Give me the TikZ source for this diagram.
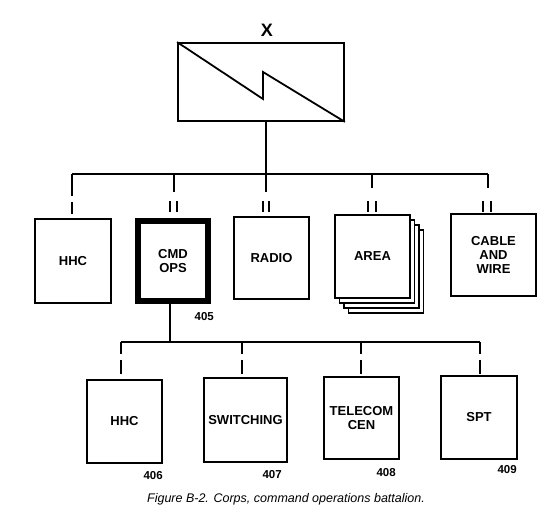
\documentclass[tikz,border=0pt]{standalone}
\usepackage{fontspec}
\setsansfont{Liberation Sans}
\usetikzlibrary{positioning}
\tikzset{
  unit/.style={draw=black, fill=white, line width=1.8pt, align=center, inner sep=2pt,
    font=\sffamily\bfseries\fontsize{13}{14}\selectfont},
  link/.style={black, line width=1.8pt},
  num/.style={font=\sffamily\bfseries\fontsize{11.5}{12}\selectfont, inner sep=1pt},
  figcap/.style={font=\sffamily\itshape\fontsize{12.5}{14}\selectfont},
}

\begin{document}
\begin{tikzpicture}[x=1pt,y=-1pt]
  \useasboundingbox (0,0) rectangle (550,518);

  % signal battalion symbol
  \node[font=\sffamily\bfseries\fontsize{18}{18}\selectfont, inner sep=0pt] (xlab) at (267,30) {X};
  \node[draw, line width=1.8pt, minimum width=166pt, minimum height=78pt] (bn) at (261,82) {};
  \draw[link, line join=miter] (bn.north west) -- (263,99) -- (263,72) -- (bn.south east);

  % first row of units
  \node[unit, minimum width=76pt, minimum height=84pt] (hhc) at (73,261) {HHC};
  \node[unit, line width=6pt, minimum width=70pt, minimum height=80pt] (cmd) at (173,261) {CMD\\OPS};
  \node[unit, minimum width=75pt, minimum height=82pt] (radio) at (271.5,258) {RADIO};
  \foreach \k in {3,2,1}{
    \node[unit, minimum width=75pt, minimum height=83pt] (area-\k) at (372.5+4.5*\k,256.5+5*\k) {};
  }
  \node[unit, minimum width=75pt, minimum height=83pt] (area) at (372.5,256.5) {AREA};
  \node[unit, minimum width=85pt, minimum height=82pt] (cable) at (493.5,255) {CABLE\\AND\\WIRE};
  \node[num, below left=7pt and -4pt of cmd.south east] (n405) {405};

  % bus and drops
  \coordinate (bus-w) at (72,174);
  \coordinate (bus-e) at (488,174);
  \coordinate (radio-top) at (266,192);
  \draw[link] (bus-w) -- (bus-e);
  \draw[link] (bn.south -| radio-top) -- (radio-top);
  \foreach \u/\px/\py in {hhc/72/196, cmd/174/192, area/372/188, cable/488/188}{
    \coordinate (\u-top) at (\px,\py);
    \draw[link] (bus-w -| \u-top) -- (\u-top);
  }
  % echelon marks
  \draw[link] (72,202) -- (72,214);
  \foreach \px in {170,177,263,269,368,376,483,491}{
    \draw[link] (\px,201.5) -- (\px,212.5);
  }

  % second row of units
  \node[unit, minimum width=75pt, minimum height=83pt] (hhc2) at (124.5,421.5) {HHC};
  \node[unit, minimum width=83pt, minimum height=84pt] (switching) at (245.5,420) {SWITCHING};
  \node[unit, minimum width=75pt, minimum height=82pt] (telecom) at (361.5,418) {TELECOM\\CEN};
  \node[unit, minimum width=76pt, minimum height=83pt] (spt) at (479,417.5) {SPT};
  \node[num, below left=6pt and -1pt of hhc2.south east] (n406) {406};
  \node[num, below left=6pt and 5pt of switching.south east] (n407) {407};
  \node[num, below left=7pt and 3pt of telecom.south east] (n408) {408};
  \node[num, below left=4pt and 0pt of spt.south east] (n409) {409};

  \coordinate (bus2-w) at (121,342);
  \coordinate (bus2-e) at (480,342);
  \coordinate (bus2-c) at (170,342);
  \draw[link] (cmd.south -| bus2-c) -- (bus2-c);
  \draw[link] (bus2-w) -- (bus2-e);
  \foreach \u/\px in {hhc2/121, switching/242, telecom/361, spt/480}{
    \coordinate (\u-top) at (\px,354);
    \draw[link] (bus2-w -| \u-top) -- (\u-top);
    \draw[link] (\px,360) -- (\px,374);
  }

  \node[figcap] (caption) at (286,499) {Figure B-2. Corps, command operations battalion.};
\end{tikzpicture}
\end{document}
